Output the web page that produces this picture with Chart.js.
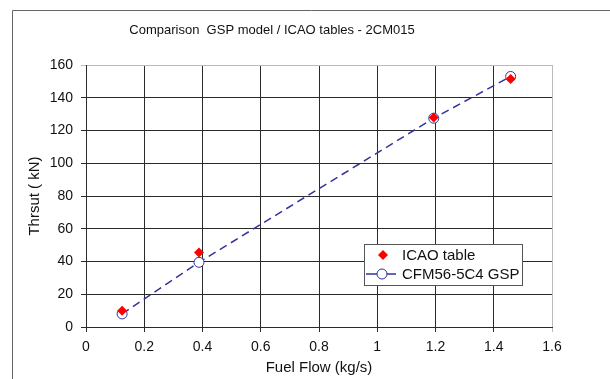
<!DOCTYPE html>
<html>
<head>
<meta charset="utf-8">
<script src="https://cdn.jsdelivr.net/npm/chart.js@4"></script>
<style>
  html, body { margin: 0; padding: 0; background: #fff; }
  #wrap { width: 610px; height: 379px; position: relative; }
</style>
</head>
<body>
<div id="wrap"><canvas id="thrustChart" width="610" height="379"></canvas></div>
<script>
// values
const fuelFlowIcao = [0.124, 0.388, 1.194, 1.458];
const thrustIcao = [10, 45.5, 128, 151.5];
const fuelFlowGsp = [0.124, 0.388, 1.194, 1.458];
const thrustGsp = [8, 39.5, 127.5, 153];
const xTicks = [0, 0.2, 0.4, 0.6, 0.8, 1, 1.2, 1.4, 1.6];
const yTicks = [0, 20, 40, 60, 80, 100, 120, 140, 160];

const FONT = 'Liberation Sans, Arial, sans-serif';

function toPoints(xs, ys) {
    return xs.map((x, i) => ({ x: x, y: ys[i] }));
}

// frame, title and the legend box that sits inside the plot
const decorations = {
    id: 'decorations',
    afterDraw(chart) {
        const ctx = chart.ctx;
        ctx.save();

        // outer frame (only left and top are inside the window)
        ctx.strokeStyle = '#666';
        ctx.lineWidth = 1;
        ctx.beginPath();
        ctx.moveTo(12.5, 379);
        ctx.lineTo(12.5, 10.5);
        ctx.lineTo(610, 10.5);
        ctx.stroke();

        // title
        ctx.fillStyle = '#111';
        ctx.font = '13px ' + FONT;
        ctx.textAlign = 'center';
        ctx.textBaseline = 'middle';
        ctx.fillText('Comparison  GSP model / ICAO tables - 2CM015', 272, 30);

        // legend
        const bx = 364.5, by = 244.5, bw = 158, bh = 41;
        ctx.fillStyle = '#fff';
        ctx.fillRect(bx, by, bw, bh);
        ctx.strokeStyle = '#555';
        ctx.strokeRect(bx, by, bw, bh);

        const ds = chart.data.datasets;
        ctx.font = '15px ' + FONT;
        ctx.textAlign = 'left';

        // row 1: red diamond
        let ry = 255;
        ctx.fillStyle = ds[0].backgroundColor;
        ctx.beginPath();
        ctx.moveTo(383, ry - 5);
        ctx.lineTo(388, ry);
        ctx.lineTo(383, ry + 5);
        ctx.lineTo(378, ry);
        ctx.closePath();
        ctx.fill();
        ctx.fillStyle = '#111';
        ctx.fillText(ds[0].label, 402, ry + 1);

        // row 2: line with open circle
        ry = 274;
        ctx.strokeStyle = ds[1].borderColor;
        ctx.lineWidth = 1.5;
        ctx.beginPath();
        ctx.moveTo(366, ry);
        ctx.lineTo(396, ry);
        ctx.stroke();
        ctx.lineWidth = 1;
        ctx.fillStyle = '#fff';
        ctx.beginPath();
        ctx.arc(382, ry, 5, 0, Math.PI * 2);
        ctx.fill();
        ctx.stroke();
        ctx.fillStyle = '#111';
        ctx.fillText(ds[1].label, 402, ry + 1);

        ctx.restore();
    }
};

const ctx = document.getElementById('thrustChart').getContext('2d');
new Chart(ctx, {
    type: 'scatter',
    data: {
        datasets: [{
            label: 'ICAO table',
            data: toPoints(fuelFlowIcao, thrustIcao),
            showLine: false,
            pointStyle: 'rectRot',
            pointRadius: 5,
            backgroundColor: '#ff0000',
            borderColor: '#ff0000',
            borderWidth: 0
        }, {
            label: 'CFM56-5C4 GSP',
            data: toPoints(fuelFlowGsp, thrustGsp),
            showLine: true,
            borderColor: '#333399',
            borderWidth: 1.5,
            borderDash: [8, 5],
            pointStyle: 'circle',
            pointRadius: 5,
            pointBackgroundColor: '#fff',
            pointBorderColor: '#333399',
            pointBorderWidth: 1
        }]
    },
    options: {
        responsive: false,
        animation: false,
        devicePixelRatio: 1,
        layout: { padding: { top: 65, right: 58, left: 0, bottom: 0 } },
        plugins: {
            legend: { display: false },
            tooltip: { enabled: false },
            title: { display: false }
        },
        scales: {
            x: {
                type: 'linear',
                min: 0,
                max: 1.6,
                afterBuildTicks: scale => { scale.ticks = xTicks.map(v => ({ value: v })); },
                afterFit: scale => { scale.height = 52; },
                ticks: {
                    color: '#111',
                    font: { family: FONT, size: 14 },
                    padding: 7,
                    callback: v => String(Number(v.toFixed(1)))
                },
                grid: {
                    color: c => (c.tick && c.tick.value === 1.6 ? '#bbb' : '#2a2a2a'),
                    tickLength: 5
                },
                border: { color: '#2a2a2a' },
                title: {
                    display: true,
                    text: 'Fuel Flow (kg/s)',
                    color: '#111',
                    font: { family: FONT, size: 15 },
                    padding: { top: 0, bottom: 2 }
                }
            },
            y: {
                min: 0,
                max: 160,
                afterBuildTicks: scale => { scale.ticks = yTicks.map(v => ({ value: v })); },
                afterFit: scale => { scale.width = 86; },
                ticks: {
                    color: '#111',
                    font: { family: FONT, size: 14 },
                    padding: 8
                },
                grid: {
                    color: c => (c.tick && c.tick.value === 160 ? '#bbb' : '#2a2a2a'),
                    tickLength: 5
                },
                border: { color: '#2a2a2a' },
                title: {
                    display: true,
                    text: 'Thrsut ( kN)',
                    color: '#111',
                    font: { family: FONT, size: 15 },
                    padding: { top: 26, bottom: 0 }
                }
            }
        }
    },
    plugins: [decorations]
});
</script>
</body>
</html>
